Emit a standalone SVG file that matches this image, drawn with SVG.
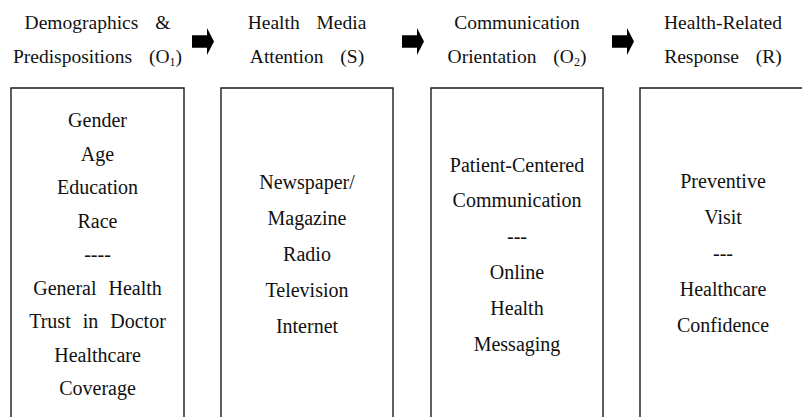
<svg xmlns="http://www.w3.org/2000/svg" width="802" height="417" viewBox="0 0 802 417">
  <defs>
    <style>
      .lbl { font-family: 'Liberation Serif'; fill: #111; text-anchor: middle; }
      .head { font-size: 19.5px; }
      .item { font-size: 20px; }
      .sub { font-size: 12px; }
      .frame { fill: none; stroke: #1a1a1a; stroke-width: 1.4; }
      .arrow { fill: #000; }
    </style>
    <path id="blockArrow" d="M0,-6.3 H15 V-13.5 L22,0 L15,13.5 V6.3 H0 Z"/>
  </defs>

  <!-- Column headings (wide word gaps are set with dx) -->
  <g id="heading-o1">
    <text class="lbl head" x="97.5" y="28.5">Demographics<tspan dx="12"> &amp;</tspan></text>
    <text class="lbl head" x="97.5" y="63">Predispositions<tspan dx="12"> (O</tspan><tspan class="sub" dy="3">1</tspan><tspan dy="-3">)</tspan></text>
  </g>
  <g id="heading-s">
    <text class="lbl head" x="307" y="28.5">Health<tspan dx="12"> Media</tspan></text>
    <text class="lbl head" x="307" y="63">Attention<tspan dx="12"> (S)</tspan></text>
  </g>
  <g id="heading-o2">
    <text class="lbl head" x="517" y="28.5">Communication</text>
    <text class="lbl head" x="517" y="63">Orientation<tspan dx="12"> (O</tspan><tspan class="sub" dy="3">2</tspan><tspan dy="-3">)</tspan></text>
  </g>
  <g id="heading-r">
    <text class="lbl head" x="723" y="28.5">Health-Related</text>
    <text class="lbl head" x="723" y="63">Response<tspan dx="12"> (R)</tspan></text>
  </g>

  <!-- Connectors: block arrows between headings -->
  <g id="connectors" class="arrow">
    <use href="#blockArrow" x="192" y="41.5"/>
    <use href="#blockArrow" x="402" y="41.5"/>
    <use href="#blockArrow" x="612" y="41.5"/>
  </g>

  <!-- Box 1: demographics and predispositions -->
  <g id="box-o1">
    <path class="frame" d="M11,418 V88 H184 V418"/>
    <text class="lbl item" x="97.5" y="127">Gender</text>
    <text class="lbl item" x="97.5" y="160.5">Age</text>
    <text class="lbl item" x="97.5" y="194">Education</text>
    <text class="lbl item" x="97.5" y="227.5">Race</text>
    <text class="lbl item" x="97.5" y="261">----</text>
    <text class="lbl item" x="97.5" y="294.5">General<tspan dx="7"> Health</tspan></text>
    <text class="lbl item" x="97.5" y="328">Trust<tspan dx="7"> in</tspan><tspan dx="7"> Doctor</tspan></text>
    <text class="lbl item" x="97.5" y="361.5">Healthcare</text>
    <text class="lbl item" x="97.5" y="395">Coverage</text>
  </g>

  <!-- Box 2: health media attention -->
  <g id="box-s">
    <path class="frame" d="M221,418 V88 H393 V418"/>
    <text class="lbl item" x="307" y="189">Newspaper/</text>
    <text class="lbl item" x="307" y="225">Magazine</text>
    <text class="lbl item" x="307" y="261">Radio</text>
    <text class="lbl item" x="307" y="297">Television</text>
    <text class="lbl item" x="307" y="333">Internet</text>
  </g>

  <!-- Box 3: communication orientation -->
  <g id="box-o2">
    <path class="frame" d="M431,418 V88 H603 V418"/>
    <text class="lbl item" x="517" y="172">Patient-Centered</text>
    <text class="lbl item" x="517" y="207">Communication</text>
    <text class="lbl item" x="517" y="243">---</text>
    <text class="lbl item" x="517" y="278.5">Online</text>
    <text class="lbl item" x="517" y="315">Health</text>
    <text class="lbl item" x="517" y="351">Messaging</text>
  </g>

  <!-- Box 4: health-related response -->
  <g id="box-r">
    <path class="frame" d="M640,418 V88 H812"/>
    <text class="lbl item" x="723" y="188">Preventive</text>
    <text class="lbl item" x="723" y="224">Visit</text>
    <text class="lbl item" x="723" y="260">---</text>
    <text class="lbl item" x="723" y="296">Healthcare</text>
    <text class="lbl item" x="723" y="332">Confidence</text>
  </g>
</svg>
